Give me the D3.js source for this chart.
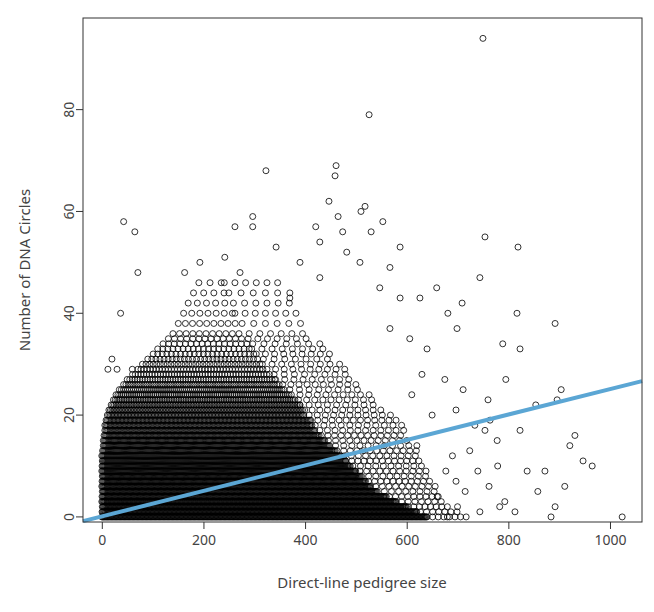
<!DOCTYPE html>
<html><head><meta charset="utf-8">
<script src="https://cdn.jsdelivr.net/npm/d3@7"></script>
<style>body{margin:0;background:#fff}text{font-family:"Source Sans Pro","Noto Sans",Lato,sans-serif}</style>
</head><body><svg id="c" width="654" height="612"></svg>
<script>
// individually read outlying points [pedigree size, circles]
const outliers = [[750,94],[526,79],[323,68],[461,69],[459,67],[447,62],[43,58],[65,56],[71,48],[37,40],
[297,59],[518,61],[510,60],[553,58],[530,56],[754,55],[819,53],[587,53],[297,57],[262,57],[343,53],[465,59],
[474,56],[744,47],[892,38],[817,40],[789,34],[823,33],[699,37],[681,40],[709,42],[659,45],[626,43],[795,27],
[854,22],[896,23],[904,25],[931,16],[921,14],[947,11],[965,10],[911,6],[1024,0],[892,2],[884,0],[858,5],
[837,9],[872,9],[823,17],[778,15],[764,19],[754,17],[724,13],[793,3],[813,1],[783,2],[744,1],[715,5],[697,7],
[677,9],[740,9],[762,6],[779,10],[734,18],[697,21],[760,23],[711,25],[675,27],[640,33],[606,35],[567,37],
[547,45],[587,43],[567,49],[508,50],[482,52],[429,54],[421,57],[390,50],[429,47],[370,43],[163,48],[193,50],
[242,51],[272,48],[12,29],[20,31],[30,29],[60,29],[680,0],[700,2],[660,4],[690,12],[650,20],[630,28],[610,24]];
// dense cloud, per count: x extent of the dense and the sparse part
const bandCount  = [0,1,2,3,4,5,6,7,8,9,10,11,12,13,14,15,16,17,18,19,20,21,22,23,24,25,26,27,28,29,30,31,32,33,34,35,36,38,40,42,44,46];
const denseMin   = [0,0,0,0,0,0,0,0,0,0,0,0,0,1,2,3,4,5,6,8,10,14,18,22,28,34,42,50,60,70,80,90,100,110,120,130,140,150,160,170,180,190];
const denseMax   = [640,620,600,580,560,540,530,520,510,500,490,480,470,460,450,440,430,420,415,410,400,395,390,380,370,360,350,340,330,320,315,310,300,295,290,285,280,270,260,250,245,240];
const sparseMax  = [720,700,690,680,670,660,660,650,650,640,640,630,630,620,620,610,600,600,590,580,570,560,550,540,530,520,510,500,490,480,470,460,450,440,430,420,410,400,390,380,370,360];
const denseStep  = [1.6,1.6,1.6,1.6,1.7,1.7,1.7,1.8,1.8,1.9,1.9,2,2,2.1,2.1,2.2,2.3,2.4,2.5,2.6,2.8,3,3.2,3.4,3.7,4,4.5,5,5.5,6,7,8,9,10,11,12,13,14,16,18,20,22];
const sparseStep = [11,12,11,13,12,14,13,12,14,13,15,12,14,13,16,14,13,15,17,14,16,15,18,16,17,19,16,18,20,17,19,21,18,20,22,19,21,23,20,22,24,21];
const xTicks = [0,200,400,600,800,1000];
const yTicks = [0,20,40,60,80];
const fit = {intercept:0.1, slope:0.025};

const pts = outliers.slice();
bandCount.forEach((c,i)=>{
  for (let x = denseMin[i] + (i%3)*0.5; x <= denseMax[i]; x += denseStep[i]) pts.push([x,c]);
  for (let x = denseMax[i] + (i*7%11); x <= sparseMax[i]; x += sparseStep[i]) pts.push([x,c]);
});

const svg = d3.select('#c');
const x = d3.scaleLinear().domain([-37,1063]).range([83,642]);
const y = d3.scaleLinear().domain([-1,98]).range([522,18]);

svg.append('g').selectAll('circle').data(pts).join('circle')
  .attr('cx',d=>x(d[0])).attr('cy',d=>y(d[1])).attr('r',3)
  .attr('fill','none').attr('stroke','#000').attr('stroke-width',0.8);

svg.append('line').attr('x1',x(-37)).attr('y1',y(fit.intercept-37*fit.slope))
  .attr('x2',x(1063)).attr('y2',y(fit.intercept+1063*fit.slope))
  .attr('stroke','#5ba6d4').attr('stroke-width',4);

svg.append('rect').attr('x',83).attr('y',18).attr('width',559).attr('height',504)
  .attr('fill','none').attr('stroke','#333');

const xa = svg.append('g').attr('transform','translate(0,522)')
  .call(d3.axisBottom(x).tickValues(xTicks).tickFormat(d3.format('d')).tickSize(7).tickPadding(6));
const ya = svg.append('g').attr('transform','translate(83,0)')
  .call(d3.axisLeft(y).tickValues(yTicks).tickSize(7).tickPadding(6));
[xa,ya].forEach(a=>{a.select('.domain').remove();
  a.selectAll('line').attr('stroke','#333');
  a.selectAll('text').attr('font-size',14).attr('fill','#444').style('font-family','"Source Sans Pro","Noto Sans",sans-serif');});
ya.selectAll('.tick').attr('transform',null);
ya.selectAll('.tick line').attr('y1',d=>y(d)).attr('y2',d=>y(d));
ya.selectAll('text').attr('x',-13).attr('y',d=>y(d)).attr('dy','0.32em').attr('text-anchor','middle')
  .attr('transform',d=>`rotate(-90,-13,${y(d)})`);

svg.append('text').attr('x',362).attr('y',588).attr('text-anchor','middle')
  .attr('font-size',15).attr('fill','#444').text('Direct-line pedigree size');
svg.append('text').attr('transform','translate(30,270) rotate(-90)').attr('text-anchor','middle')
  .attr('font-size',15).attr('fill','#444').text('Number of DNA Circles');
</script></body></html>
